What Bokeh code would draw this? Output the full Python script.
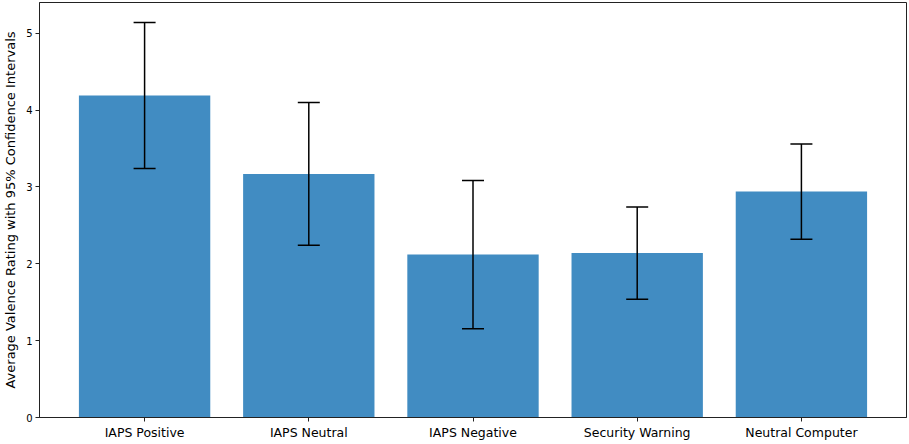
from bokeh.plotting import figure
from bokeh.models import ColumnDataSource, Whisker, TeeHead, FixedTicker, Range1d
from bokeh.embed import file_html
from bokeh.resources import INLINE

categories = ["IAPS Positive", "IAPS Neutral", "IAPS Negative", "Security Warning", "Neutral Computer"]
means = [4.19, 3.17, 2.12, 2.14, 2.94]
ci = [0.95, 0.93, 0.965, 0.60, 0.62]
y_ticks = [0, 1, 2, 3, 4, 5]

xs = list(range(len(categories)))
source = ColumnDataSource(data=dict(
    x=xs,
    top=means,
    upper=[m + c for m, c in zip(means, ci)],
    lower=[m - c for m, c in zip(means, ci)],
))

p = figure(width=907, height=442,
           x_range=Range1d(-0.64, len(categories) - 1 + 0.64),
           y_range=Range1d(0, 5.40),
           output_backend="svg", toolbar_location=None,
           min_border_left=0, min_border_right=1, min_border_top=2, min_border_bottom=0)

p.vbar(x="x", top="top", width=0.8, source=source, color="#418CC2", line_color=None)

w = Whisker(base="x", upper="upper", lower="lower", source=source,
            line_color="black", line_width=1.5, level="overlay",
            upper_head=TeeHead(size=22, line_color="black", line_width=1.5),
            lower_head=TeeHead(size=22, line_color="black", line_width=1.5))
p.add_layout(w)

p.xgrid.visible = False
p.ygrid.visible = False
p.outline_line_color = "#222222"
p.outline_line_width = 1
p.outline_line_alpha = 1

p.xaxis.ticker = FixedTicker(ticks=xs)
p.xaxis.major_label_overrides = {i: c for i, c in zip(xs, categories)}
p.xaxis.minor_tick_line_color = None
p.xaxis.major_tick_out = 4
p.xaxis.major_tick_in = 0
p.xaxis.major_label_standoff = 3
p.xaxis.major_label_text_font = "DejaVu Sans"
p.xaxis.major_label_text_font_size = "12.5px"
p.xaxis.major_label_text_color = "black"
p.xaxis.axis_line_color = "#222222"
p.xaxis.major_tick_line_color = "#222222"

p.yaxis.ticker = FixedTicker(ticks=y_ticks)
p.yaxis.minor_tick_line_color = None
p.yaxis.major_tick_out = 4
p.yaxis.major_tick_in = 0
p.yaxis.major_label_standoff = 3
p.yaxis.major_label_text_font = "DejaVu Sans"
p.yaxis.major_label_text_font_size = "10px"
p.yaxis.major_label_text_color = "black"
p.yaxis.axis_line_color = "#222222"
p.yaxis.major_tick_line_color = "#222222"
p.yaxis.axis_label = "Average Valence Rating with 95% Confidence Intervals"
p.yaxis.axis_label_text_font = "DejaVu Sans"
p.yaxis.axis_label_text_font_size = "13px"
p.yaxis.axis_label_text_font_style = "normal"
p.yaxis.axis_label_text_color = "black"
p.yaxis.axis_label_standoff = 5

open("out.html", "w").write(file_html(p, INLINE))
